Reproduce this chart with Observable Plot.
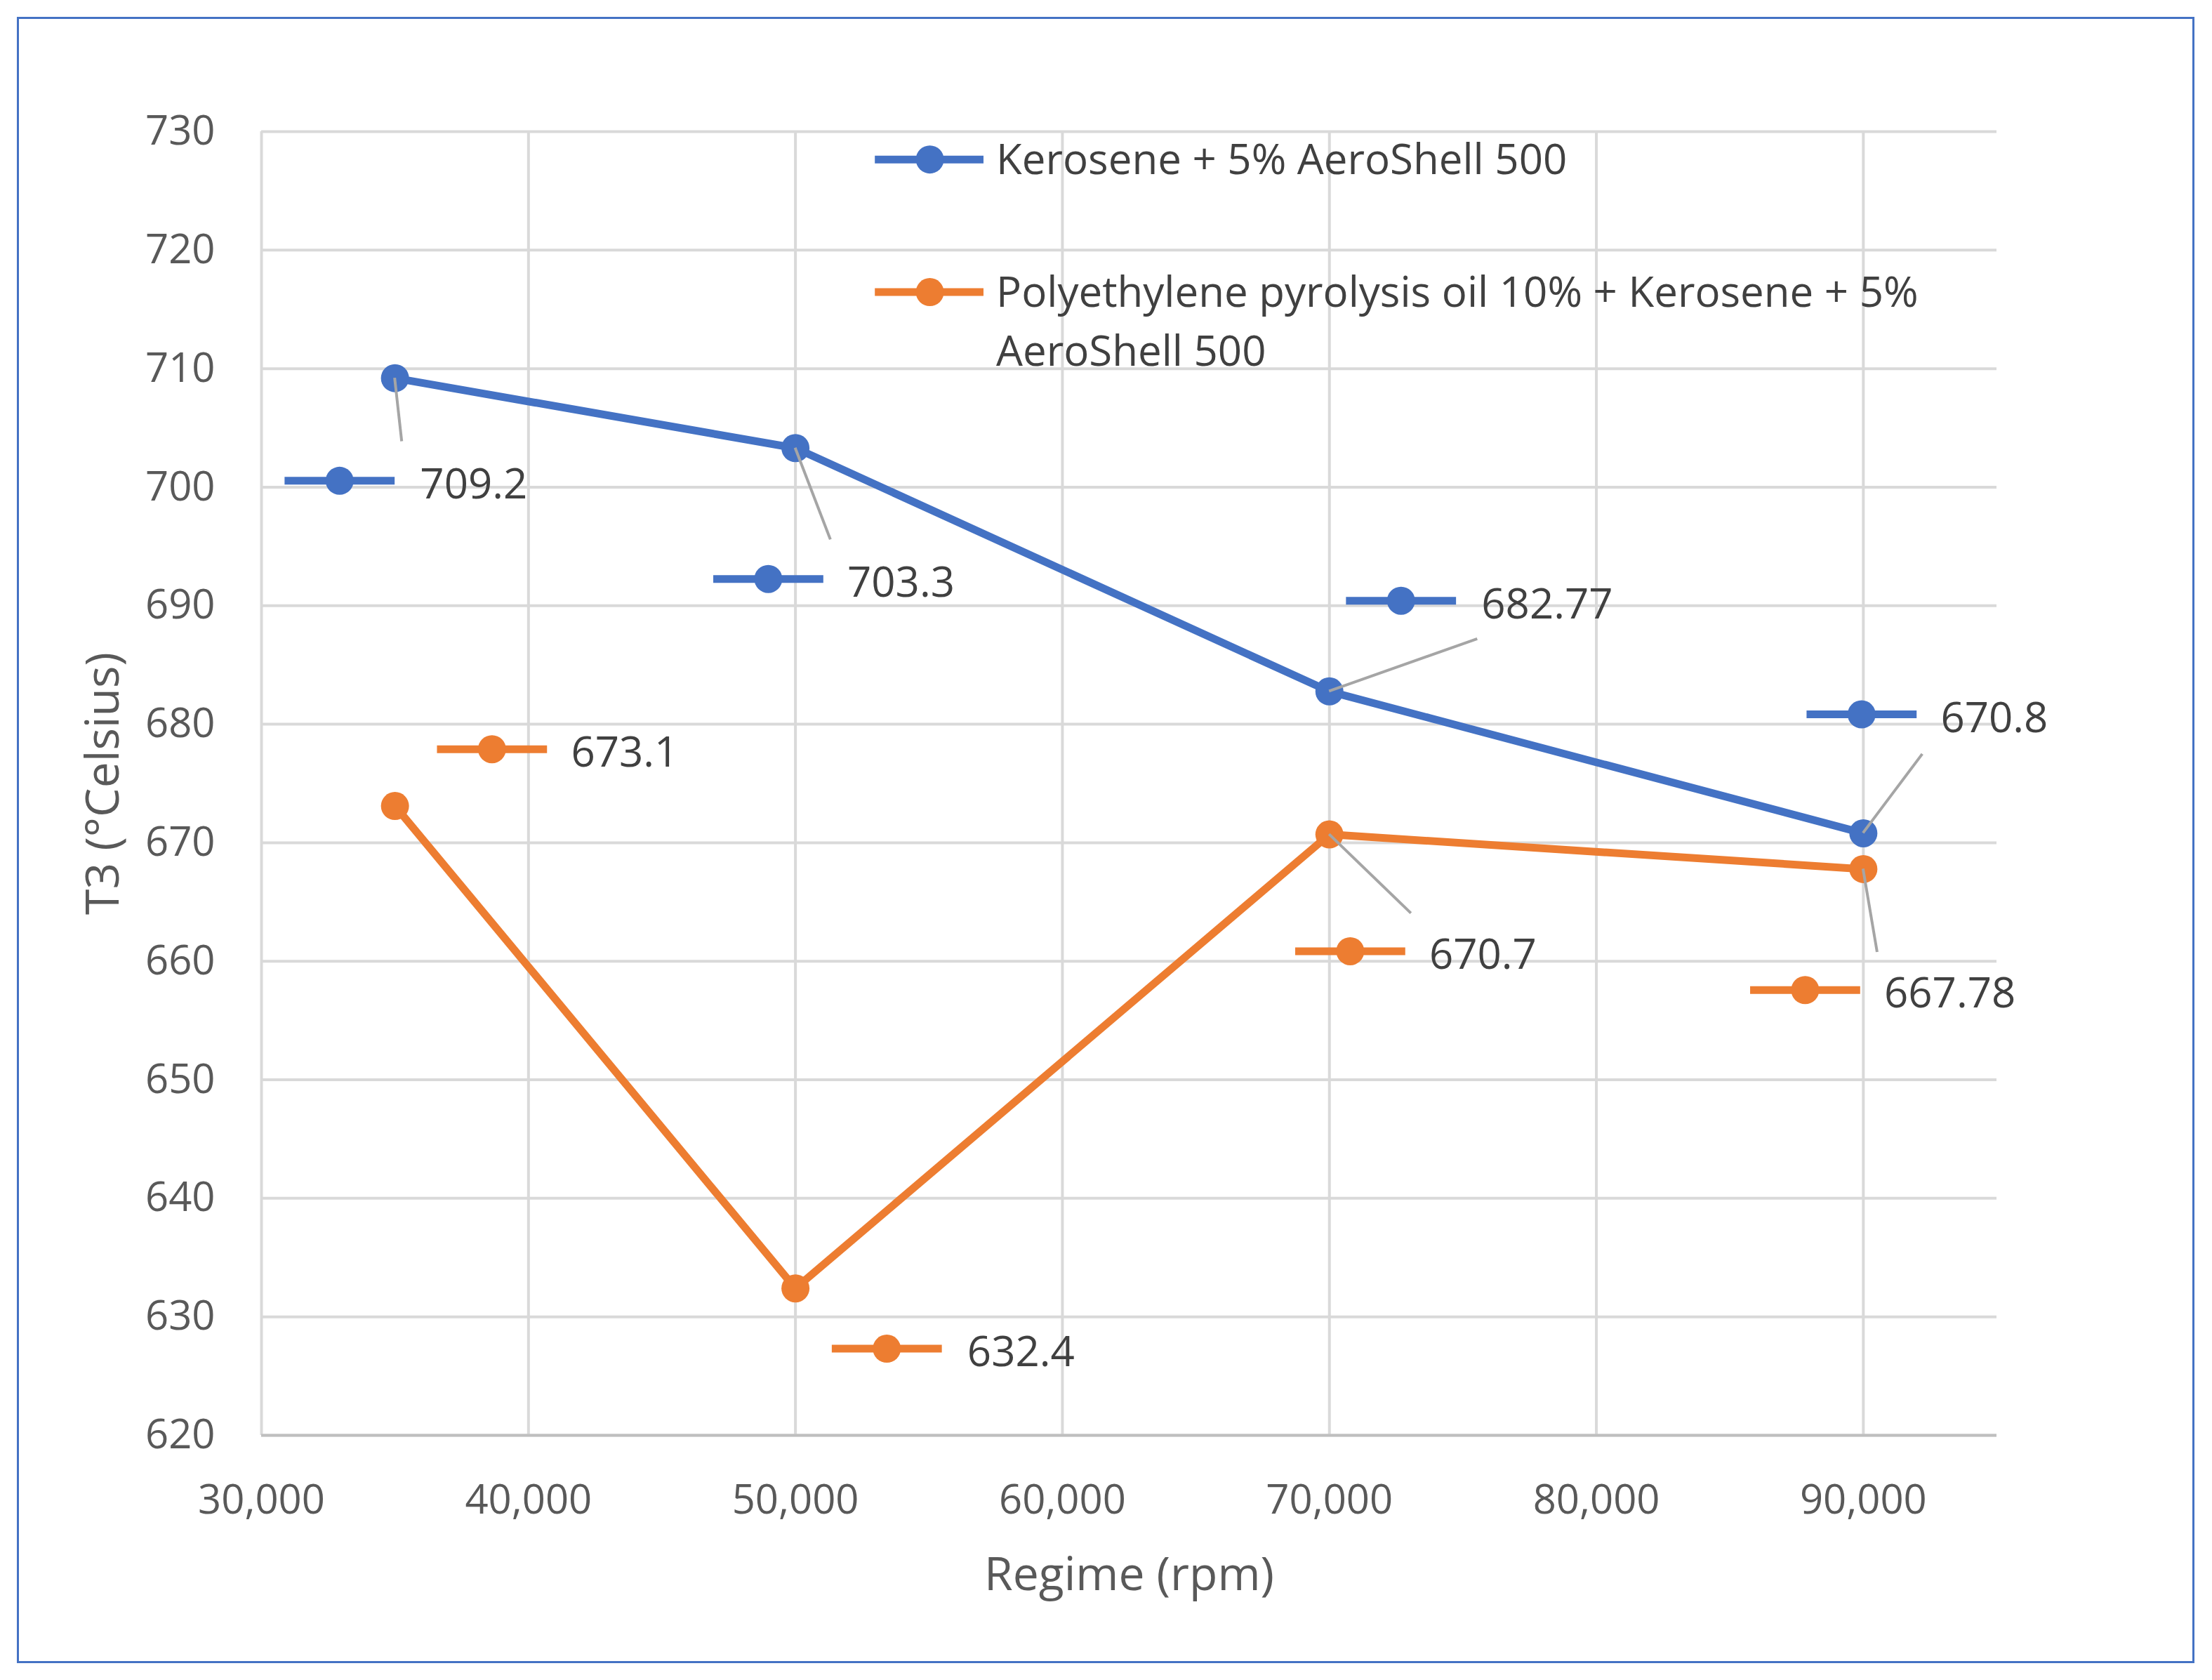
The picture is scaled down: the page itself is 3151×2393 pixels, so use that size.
<!DOCTYPE html>
<html><head><meta charset="utf-8">
<script src="https://cdn.jsdelivr.net/npm/d3@7"></script>
<script src="https://cdn.jsdelivr.net/npm/@observablehq/plot@0.6"></script>
<style>body{margin:0;background:#fff}#b{position:absolute;left:24px;top:24px;width:3096px;height:2339px;border:3px solid #4472C4}#c{position:absolute;left:0;top:0}</style>
</head><body><div id="b"></div><div id="c"></div>
<script>
const regimes = [35000, 50000, 70000, 90000];
const kerosene = [709.2, 703.3, 682.77, 670.8];
const pyrolysis = [673.1, 632.4, 670.7, 667.78];
const keroLabels = ["709.2", "703.3", "682.77", "670.8"];
const pyroLabels = ["673.1", "632.4", "670.7", "667.78"];
const seriesNames = ["Kerosene + 5% AeroShell 500", "Polyethylene pyrolysis oil 10% + Kerosene + 5%", "AeroShell 500"];
const xTicks = [30000, 40000, 50000, 60000, 70000, 80000, 90000];
const yTicks = d3.range(620, 731, 10);

const K = 2.01;
const keroOff = [[-39,73,18,75,5,45],[-19,93,37,95,25,65],[51,-64,108,-62,105,-37],[-1,-84,55,-82,42,-56]];
const pyroOff = [[69,-40,125,-38,null,null],[65,43,122,45,null,null],[15,83,71,85,58,56],[-41,86,15,88,10,59]];
const blue = "#4472C4", orange = "#ED7D31";
const rows = regimes.flatMap((r,i)=>[{x:r,y:kerosene[i],s:"k"},{x:r,y:pyrolysis[i],s:"p"}]);

function labels(index, scales){
  const g = d3.create("svg:g").attr("text-anchor","start").attr("font-size",60).attr("fill","#404040");
  [[kerosene,keroLabels,keroOff,blue],[pyrolysis,pyroLabels,pyroOff,orange]].forEach(([vals,labs,offs,col])=>{
    vals.forEach((v,i)=>{
      const px = scales.x(regimes[i]), py = scales.y(v), o = offs[i];
      if (o[4]!==null) g.append("line").attr("x1",px).attr("y1",py).attr("x2",px+o[4]*K).attr("y2",py+o[5]*K).attr("stroke","#A5A5A5").attr("stroke-width",4);
      const dx = px+o[0]*K, dy = py+o[1]*K;
      g.append("line").attr("x1",dx-39*K).attr("x2",dx+39*K).attr("y1",dy).attr("y2",dy).attr("stroke",col).attr("stroke-width",11);
      g.append("circle").attr("cx",dx).attr("cy",dy).attr("r",20).attr("fill",col);
      g.append("text").attr("x",px+o[2]*K).attr("y",py+o[3]*K).attr("dy","0.35em").text(labs[i]);
    });
  });
  const leg = [[blue,113,seriesNames[0]],[orange,207,seriesNames[1]]];
  leg.forEach(([col,y,t])=>{
    g.append("line").attr("x1",620*K).attr("x2",697*K).attr("y1",y*K).attr("y2",y*K).attr("stroke",col).attr("stroke-width",11);
    g.append("circle").attr("cx",659*K).attr("cy",y*K).attr("r",20).attr("fill",col);
    g.append("text").attr("x",706*K).attr("y",y*K).attr("dy","0.35em").text(t);
  });
  g.append("text").attr("x",706*K).attr("y",249*K).attr("dy","0.35em").text(seriesNames[2]);
  return g.node();
}

const chart = Plot.plot({
  width: 3151, height: 2393,
  marginLeft: 372, marginRight: 307, marginTop: 187, marginBottom: 349,
  style: {fontFamily: "Open Sans, sans-serif", fontSize: "58px", color: "#595959", background: "transparent"},
  x: {domain: [30000, 95000]},
  y: {domain: [620, 730]},
  marks: [
    Plot.gridX(xTicks, {stroke: "#D9D9D9", strokeOpacity: 1, strokeWidth: 4}),
    Plot.gridY(yTicks, {stroke: "#D9D9D9", strokeOpacity: 1, strokeWidth: 4}),
    Plot.ruleY([620], {stroke: "#BFBFBF", strokeWidth: 4}),
    Plot.axisX(xTicks, {tickSize: 0, tickPadding: 70, tickFormat: d3.format(","), label: "Regime (rpm)", labelAnchor: "center", labelArrow: "none", labelOffset: 220, fontSize: 58, fill: "#595959"}),
    Plot.axisY(yTicks, {tickSize: 0, tickPadding: 66, label: "T3 (°Celsius)", labelAnchor: "center", labelArrow: "none", labelOffset: 250, fontSize: 58, fill: "#595959"}),
    Plot.line(rows, {x: "x", y: "y", z: "s", stroke: d => d.s==="k"?blue:orange, strokeWidth: 11}),
    Plot.dot(rows, {x: "x", y: "y", r: 20, fill: d => d.s==="k"?blue:orange}),
    labels
  ]
});
chart.querySelectorAll("[aria-label$='axis label'] text, [aria-label$='axis label']").forEach(e=>e.setAttribute("font-size","66"));
document.getElementById("c").appendChild(chart);
</script></body></html>
